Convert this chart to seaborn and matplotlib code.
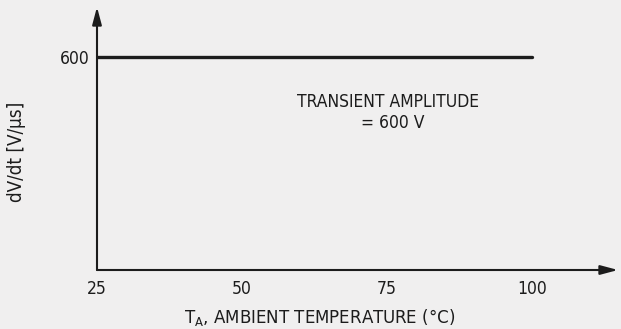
import matplotlib
matplotlib.use("Agg")
import matplotlib.pyplot as plt
import pandas as pd
import seaborn as sns

# data
temps = [25, 100]
dvdt = [600, 600]
xticks = [25, 50, 75, 100]
yticks = [600]
note_title = "TRANSIENT AMPLITUDE"
note_value = "= 600 V"

df = pd.DataFrame({"temp": temps, "dvdt": dvdt})

sns.set_style("white")
plt.rcParams['font.family'] = ['DejaVu Sans']
plt.rcParams['font.stretch'] = 'condensed'
plt.rcParams['mathtext.fontset'] = 'custom'
plt.rcParams['mathtext.rm'] = 'DejaVu Sans:stretch=condensed'

bg = '#f0efef'
ink = '#1c1c1c'

fig = plt.figure(figsize=(6.21, 3.29), dpi=100, facecolor=bg)
ax = fig.add_axes([97 / 621, 59 / 329, 521 / 621, 263 / 329])
ax.set_facecolor(bg)

sns.lineplot(data=df, x="temp", y="dvdt", ax=ax, color=ink, linewidth=2.4)

ax.set_xlim(25, 114.8)
ax.set_ylim(0, 741)

for s in ax.spines.values():
    s.set_visible(False)

# axes drawn as arrows
arrow = dict(arrowstyle='-|>,head_length=0.75,head_width=0.2', color=ink, lw=1.5,
             mutation_scale=14, shrinkA=0, shrinkB=0)
ax.annotate("", xy=(1, 0), xytext=(0, 0), xycoords='axes fraction', arrowprops=arrow)
ax.annotate("", xy=(0, 1), xytext=(0, 0), xycoords='axes fraction', arrowprops=arrow)

ax.set_xticks(xticks)
ax.set_yticks(yticks)
ax.tick_params(axis='x', direction='in', length=8, width=1, color=ink,
               labelsize=12.5, labelcolor=ink, pad=7)
ax.tick_params(axis='y', direction='in', length=0, labelsize=12.5, labelcolor=ink, pad=5)

ax.set_xlabel("$\\mathrm{T_A}$, AMBIENT TEMPERATURE (°C)", fontsize=13.3, color=ink)
ax.xaxis.label.set_va('center')
ax.xaxis.set_label_coords(0.428, -0.18)
ax.set_ylabel("dV/dt [V/μs]", fontsize=13.5, color=ink)
ax.yaxis.label.set_va('center')
ax.yaxis.set_label_coords(-0.155, 0.449)

ax.text(75.2, 473, note_title, ha='center', va='center', fontsize=12.5, color=ink)
ax.text(75.9, 414, note_value, ha='center', va='center', fontsize=12.5, color=ink)

fig.savefig("out.png", dpi=100, facecolor=bg)
